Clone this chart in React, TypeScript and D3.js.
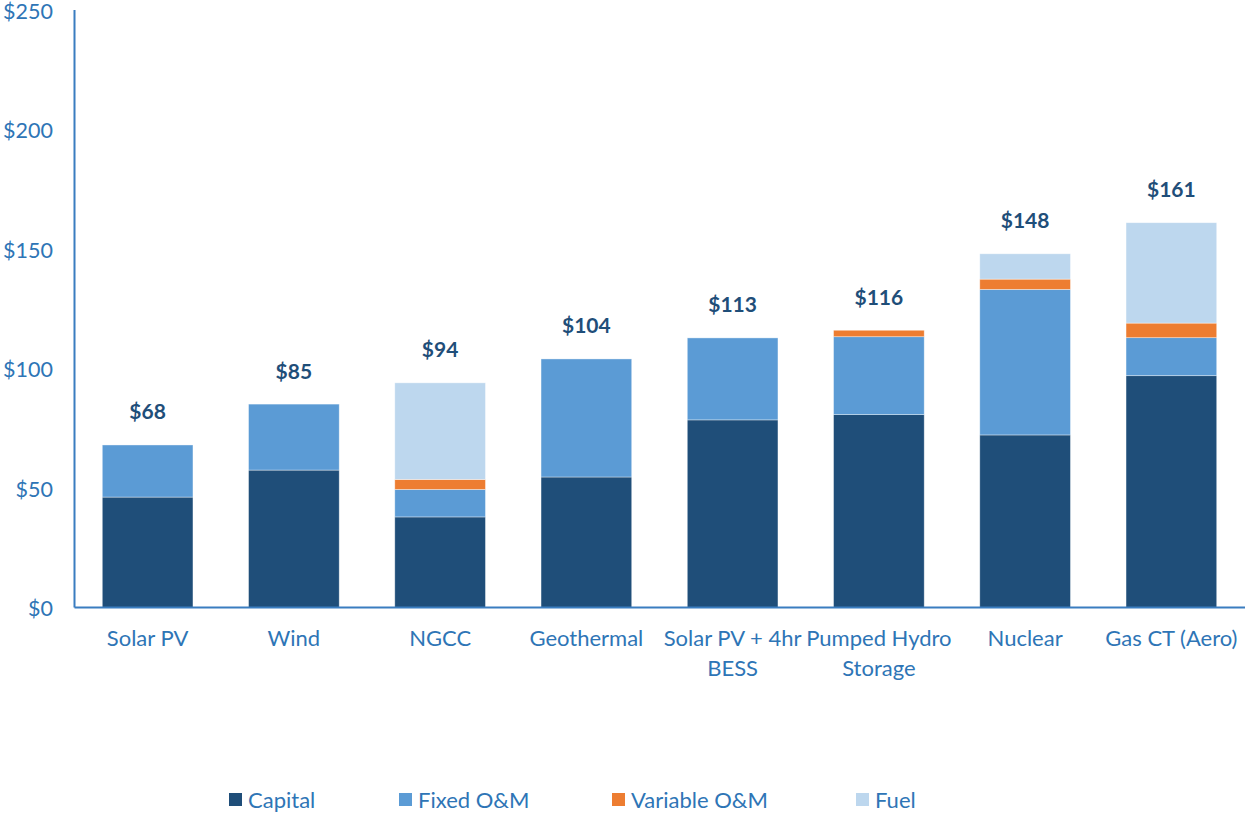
import React from "react";
import * as d3 from "d3";

const categories = [
  ["Solar PV"],
  ["Wind"],
  ["NGCC"],
  ["Geothermal"],
  ["Solar PV + 4hr", "BESS"],
  ["Pumped Hydro", "Storage"],
  ["Nuclear"],
  ["Gas CT (Aero)"],
];
const seriesNames = ["Capital", "Fixed O&M", "Variable O&M", "Fuel"];
const capital = [46.2, 57.5, 37.9, 54.6, 78.5, 80.7, 72.2, 97.0];
const fixedOM = [21.8, 27.6, 11.5, 49.4, 34.3, 32.6, 60.9, 15.9];
const variableOM = [0, 0, 4.2, 0, 0, 2.7, 4.3, 6.1];
const fuel = [0, 0, 40.4, 0, 0, 0, 10.6, 42.0];
const totals = [68, 85, 94, 104, 113, 116, 148, 161];
const yTicks = [0, 50, 100, 150, 200, 250];

const colors = ["#1F4E79", "#5B9BD5", "#ED7D31", "#BDD7EE"];
const axisColor = "#3A7DC0";
const textColor = "#2E75B6";
const labelColor = "#1F4E79";
const font = "Lato, 'Open Sans', sans-serif";

export default function App() {
  const W = 1245, H = 813;
  const x0 = 74.5, x1 = 1244.5;
  const y = d3.scaleLinear().domain([0, 250]).range([607.5, 10]);
  const idx = categories.map((_, i) => i);
  const x = d3.scaleBand<number>().domain(idx).range([x0, x1]).paddingInner(0.38).paddingOuter(0.19);

  const rows = idx.map((i) => ({ i, s0: capital[i], s1: fixedOM[i], s2: variableOM[i], s3: fuel[i] }));
  const stack = d3.stack<any>().keys(["s0", "s1", "s2", "s3"]);
  const stacked = stack(rows);

  const legendX = [229, 399, 612, 856];

  return (
    <svg width={W} height={H} style={{ position: "absolute", left: 0, top: 0, display: "block" }} fontFamily={font}>
      <rect width={W} height={H} fill="#fff" />
      {stacked.map((layer, k) =>
        layer.map((d, i) => {
          const h = y(d[0]) - y(d[1]);
          if (h <= 0.01) return null;
          return (
            <rect
              key={`${k}-${i}`}
              x={x(i)!}
              y={y(d[1])}
              width={x.bandwidth()}
              height={h}
              fill={colors[k]}
              stroke="#ffffff"
              strokeOpacity={0.5}
              strokeWidth={0.75}
            />
          );
        })
      )}
      {/* axes */}
      <line x1={x0} x2={x0} y1={y(250)} y2={y(0)} stroke={axisColor} strokeWidth={2} />
      <line x1={x0} x2={W} y1={y(0)} y2={y(0)} stroke={axisColor} strokeWidth={2} />
      {yTicks.map((t) => (
        <text key={t} x={53} y={y(t) + 1} dy="0.35em" textAnchor="end" fontSize={21.5} fill={textColor}>
          {`$${t}`}
        </text>
      ))}
      {categories.map((lines, i) =>
        lines.map((ln, j) => (
          <text
            key={`${i}-${j}`}
            x={x(i)! + x.bandwidth() / 2}
            y={638 + j * 30}
            dy="0.35em"
            textAnchor="middle"
            fontSize={22}
            fill={textColor}
          >
            {ln}
          </text>
        ))
      )}
      {totals.map((t, i) => (
        <text
          key={i}
          x={x(i)! + x.bandwidth() / 2}
          y={y(t) - 33}
          dy="0.35em"
          textAnchor="middle"
          fontSize={21}
          fontWeight="bold"
          fill={labelColor}
        >
          {`$${t}`}
        </text>
      ))}
      {seriesNames.map((s, k) => (
        <g key={s}>
          <rect x={legendX[k]} y={793} width={13} height={13} fill={colors[k]} />
          <text x={legendX[k] + 19} y={800} dy="0.35em" fontSize={22} fill={textColor}>
            {s}
          </text>
        </g>
      ))}
    </svg>
  );
}
